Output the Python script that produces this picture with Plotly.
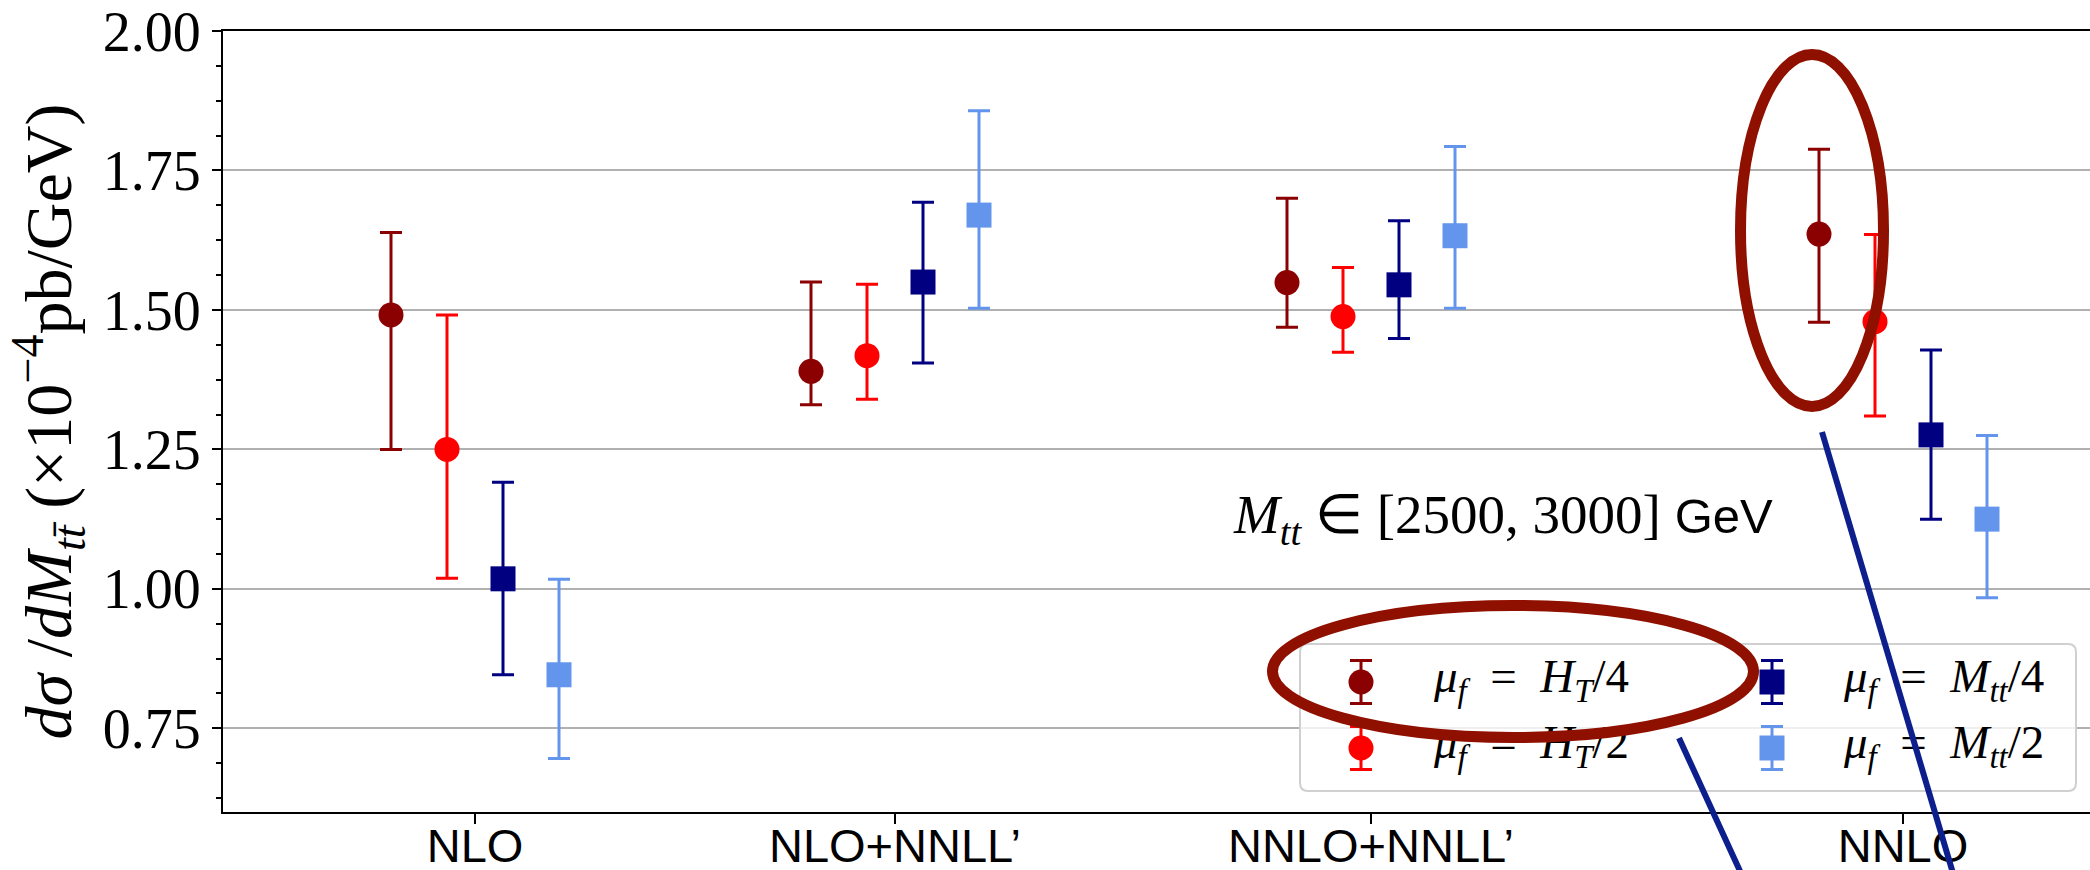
import plotly.graph_objects as go

# ---- data -------------------------------------------------------------
categories = ["NLO", "NLO+NNLL’", "NNLO+NNLL’", "NNLO"]
category_x = [0.0, 0.75, 1.6, 2.55]
series_offsets = [-0.15, -0.05, 0.05, 0.15]

series_labels = [
    "<i>μ</i><sub><i>f</i></sub>\u2002=\u2002<i>H</i><sub><i>T</i></sub>/4",
    "<i>μ</i><sub><i>f</i></sub>\u2002=\u2002<i>H</i><sub><i>T</i></sub>/2",
    "<i>μ</i><sub><i>f</i></sub>\u2002=\u2002<i>M</i><sub><i>tt</i></sub>/4",
    "<i>μ</i><sub><i>f</i></sub>\u2002=\u2002<i>M</i><sub><i>tt</i></sub>/2",
]
series_colors = ["#8b0000", "#ff0000", "#000080", "#6495ed"]
series_symbols = ["circle", "circle", "square", "square"]

ht4_central = [1.491, 1.390, 1.549, 1.636]
ht4_low = [1.250, 1.330, 1.469, 1.478]
ht4_high = [1.639, 1.550, 1.700, 1.788]

ht2_central = [1.250, 1.418, 1.488, 1.479]
ht2_low = [1.019, 1.340, 1.424, 1.310]
ht2_high = [1.491, 1.546, 1.576, 1.635]

mtt4_central = [1.018, 1.550, 1.545, 1.276]
mtt4_low = [0.846, 1.405, 1.449, 1.125]
mtt4_high = [1.191, 1.693, 1.660, 1.428]

mtt2_central = [0.846, 1.670, 1.633, 1.125]
mtt2_low = [0.696, 1.503, 1.503, 0.984]
mtt2_high = [1.017, 1.857, 1.793, 1.275]

series_central = [ht4_central, ht2_central, mtt4_central, mtt2_central]
series_low = [ht4_low, ht2_low, mtt4_low, mtt2_low]
series_high = [ht4_high, ht2_high, mtt4_high, mtt2_high]

y_tick_values = [0.75, 1.00, 1.25, 1.50, 1.75, 2.00]

# ---- geometry -----------------------------------------------------------
W, H = 2090, 870
ML, MR, MT, MB = 223, 0, 31, 58
X_RANGE = [-0.45, -0.45 + (W - ML - MR) / 560.0]
Y_RANGE = [0.6, 2.0]
SERIF = "Liberation Serif"
SANS = "Liberation Sans"


def px_to_x(px):
    return X_RANGE[0] + (px - ML) / (W - ML - MR) * (X_RANGE[1] - X_RANGE[0])


def py_to_y(py):
    return Y_RANGE[1] - (py - MT) / (H - MT - MB) * (Y_RANGE[1] - Y_RANGE[0])


def px_to_paper(px):
    return (px - ML) / (W - ML - MR)


def py_to_paper(py):
    return (H - MB - py) / (H - MT - MB)


fig = go.Figure()

# ---- data series with asymmetric error bars ------------------------------
for i in range(4):
    xs = [cx + series_offsets[i] for cx in category_x]
    c = series_central[i]
    plus = [h - v for h, v in zip(series_high[i], c)]
    minus = [v - l for v, l in zip(c, series_low[i])]
    fig.add_trace(go.Scatter(
        x=xs, y=c, mode="markers", showlegend=False,
        marker=dict(symbol=series_symbols[i], size=25, color=series_colors[i],
                    line=dict(width=0)),
        error_y=dict(type="data", symmetric=False, array=plus, arrayminus=minus,
                     color=series_colors[i], thickness=3, width=11),
    ))

# ---- legend (drawn by hand so the highlight ring can sit on top) --------
leg_box = (1300, 644, 2076, 791)
leg_rows = [682, 748]
leg_cols = [(1361, 1438), (1772, 1848)]
leg_err = 21.5 / ((H - MT - MB) / (Y_RANGE[1] - Y_RANGE[0]))

for i in range(4):
    col = leg_cols[i // 2]
    row = leg_rows[i % 2]
    fig.add_trace(go.Scatter(
        x=[px_to_x(col[0])], y=[py_to_y(row)], mode="markers", showlegend=False,
        marker=dict(symbol=series_symbols[i], size=25, color=series_colors[i],
                    line=dict(width=0)),
        error_y=dict(type="constant", value=leg_err, color=series_colors[i],
                     thickness=3, width=11),
    ))
    fig.add_trace(go.Scatter(
        x=[px_to_x(col[1] - 4)], y=[py_to_y(row - 2)], mode="text",
        showlegend=False, text=[series_labels[i]], textposition="middle right",
        textfont=dict(family=SERIF, size=47, color="black"),
    ))

# legend frame with rounded corners
x0, y0, x1, y1 = leg_box
r = 8


def P(px, py):
    return f"{px_to_x(px):.6f},{py_to_y(py):.6f}"


frame_path = (
    f"M {P(x0 + r, y0)} L {P(x1 - r, y0)} Q {P(x1, y0)} {P(x1, y0 + r)} "
    f"L {P(x1, y1 - r)} Q {P(x1, y1)} {P(x1 - r, y1)} "
    f"L {P(x0 + r, y1)} Q {P(x0, y1)} {P(x0, y1 - r)} "
    f"L {P(x0, y0 + r)} Q {P(x0, y0)} {P(x0 + r, y0)} Z"
)
fig.add_shape(type="path", path=frame_path, xref="x", yref="y", layer="between",
              fillcolor="rgba(255,255,255,0.8)", line=dict(color="#d0d0d0", width=2))

# ---- highlight rings and pointer lines -----------------------------------
ring_color = "#901000"
for (ex0, ey0, ex1, ey1) in [(1740.5, 54.5, 1883.5, 406.5), (1272.5, 605.5, 1753.5, 737.5)]:
    fig.add_shape(type="circle", xref="paper", yref="paper", layer="above",
                  x0=px_to_paper(ex0), x1=px_to_paper(ex1),
                  y0=py_to_paper(ey1), y1=py_to_paper(ey0),
                  line=dict(color=ring_color, width=11))

line_color = "#0d1f8c"
for (lx0, ly0, lx1, ly1) in [(1822, 432, 1955, 880), (1679, 738, 1745, 882)]:
    fig.add_shape(type="line", xref="paper", yref="paper", layer="above",
                  x0=px_to_paper(lx0), y0=py_to_paper(ly0),
                  x1=px_to_paper(lx1), y1=py_to_paper(ly1),
                  line=dict(color=line_color, width=6))

# ---- bin annotation -----------------------------------------------------
fig.add_annotation(
    x=px_to_paper(1231), y=py_to_paper(518), xref="paper", yref="paper",
    xanchor="left", yanchor="middle", showarrow=False,
    text=(f"<i>M</i><sub><i>tt</i></sub> ∈ [2500, 3000] "
          f"<span style=\"font-family:{SANS};font-size:49px\">GeV</span>"),
    font=dict(family=SERIF, size=55, color="black"),
)

# ---- axes -------------------------------------------------------------
fig.update_xaxes(
    range=X_RANGE, tickmode="array", tickvals=category_x, ticktext=categories,
    showgrid=False, zeroline=False, showline=True, linecolor="black", linewidth=2,
    mirror=True, ticks="outside", ticklen=10, tickwidth=2, tickcolor="black",
    ticklabelstandoff=-18,
    tickfont=dict(family=SANS, size=47, color="black"), automargin=False,
)
fig.update_yaxes(
    range=Y_RANGE, tickmode="array", tickvals=y_tick_values,
    ticktext=[f"{v:.2f}" for v in y_tick_values],
    showgrid=True, gridcolor="#b0b0b0", gridwidth=2, zeroline=False,
    showline=True, linecolor="black", linewidth=2, mirror=False,
    ticks="outside", ticklen=9, tickwidth=2, tickcolor="black",
    minor=dict(dtick=0.0625, tick0=0, ticks="outside", ticklen=5, tickwidth=1.5,
               tickcolor="black", showgrid=False),
    tickfont=dict(family=SERIF, size=56, color="black"), automargin=False,
    title=dict(
        text="<i>dσ</i> /<i>dM</i><sub><i>tt\u0304</i></sub> (×10<sup>−4</sup>pb/GeV)",
        font=dict(family=SERIF, size=66, color="black"), standoff=10,
    ),
)

fig.update_layout(
    width=W, height=H, margin=dict(l=ML, r=MR, t=MT, b=MB),
    plot_bgcolor="white", paper_bgcolor="white", showlegend=False,
)

fig.write_html("out.html")
